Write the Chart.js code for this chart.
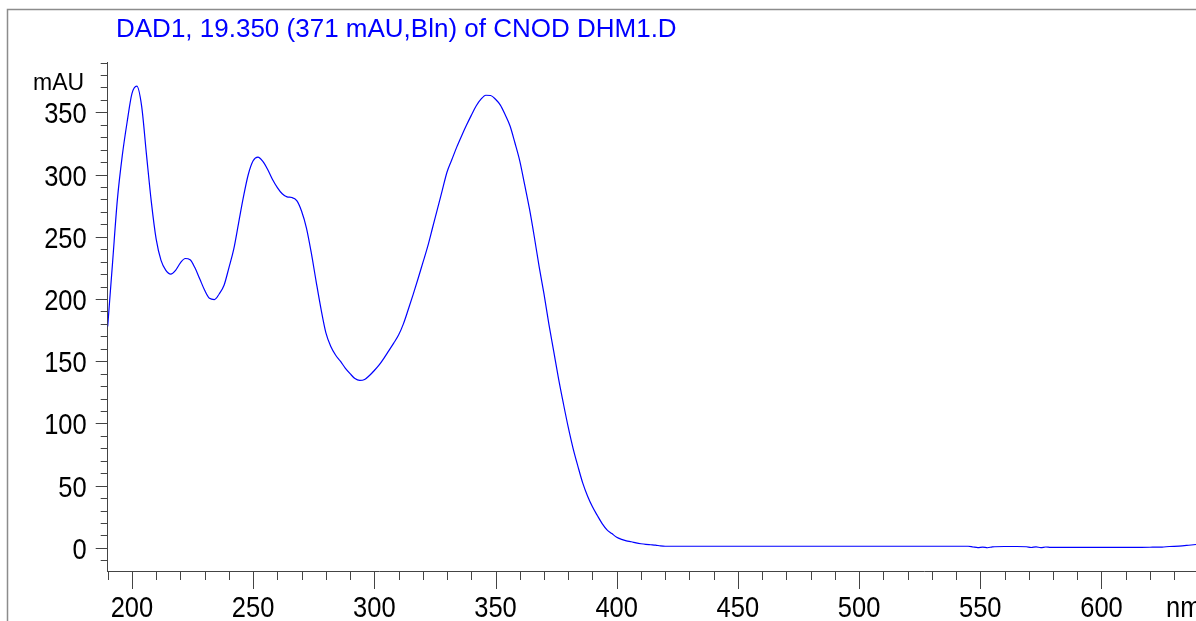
<!DOCTYPE html>
<html><head><meta charset="utf-8">
<style>html,body{margin:0;padding:0;background:#fff;overflow:hidden}#wrap{width:1196px;height:621px;position:relative}</style>
<script src="https://cdn.jsdelivr.net/npm/chart.js@4.4.0/dist/chart.umd.min.js"></script>
</head><body><div id="wrap"><canvas id="c" width="1196" height="621"></canvas></div>
<script>
const titleText = "DAD1, 19.350 (371 mAU,Bln) of CNOD DHM1.D";
const yUnit = "mAU";
const xUnit = "nm";
const wavelengths = [
190,192,194,196,198,200,202,204,206,208,210,212,214,216,218,220,222,224,226,228,
230,232,234,236,238,240,242,244,246,248,250,252,254,256,258,260,262,264,266,268,
270,272,274,276,278,280,282,284,286,288,290,292,294,296,298,300,302,304,306,308,
310,312,314,316,318,320,322,324,326,328,330,332,334,336,338,340,342,344,346,348,
350,352,354,356,358,360,362,364,366,368,370,372,374,376,378,380,382,384,386,388,
390,392,394,396,398,400,402,404,406,408,410,412,414,416,418,420,430,440,450,460,
470,480,490,500,510,520,530,540,545,547,549,551,553,555,560,565,569,571,573,575,
577,579,585,590,600,610,620,625,628,632,636,639];
const absorbance = [
178,229,280,315,342,365,371,355,316,278,248,231,223,220,223,229,232.5,231.5,225,216,
207,200.5,199.5,204,211,225,240,261,282,300,311,314,310.5,304,296,289.5,284.5,282,281.5,279,
270.5,257,237,214,192,173,162,155,150,144.5,140,136,134.5,135.3,138.5,142.5,147,152.5,158.5,164.5,
171,180,191.5,203.5,216,229,242,257,272,287,302,312,322,331,339.5,347.5,355,360.5,363.7,363.5,
360.5,355.8,348,339,325.5,311,292,272.5,250,226,204,180,158,136,116,97,80,65.5,52,41.5,
33,26,19.5,14.5,11.5,8.5,6.8,5.6,4.9,4,3.3,2.8,2.5,2.2,1.6,1.3,1.3,1.3,1.3,1.3,
1.3,1.3,1.3,1.3,1.3,1.3,1.3,1.3,1.3,0.7,0.2,0.6,0.1,0.8,1.1,1.1,0.9,0.3,0.8,0.2,
0.7,0.4,0.4,0.4,0.4,0.4,0.5,0.6,1.1,1.4,2.1,2.7];
const yMajorTicks = [0,50,100,150,200,250,300,350];
const xMajorTicks = [200,250,300,350,400,450,500,550,600];

const baseFont = '"Liberation Sans", Arial, sans-serif';
const axisColor = '#444';
const squeeze = 0.85;

function narrowText(ctx, text, x, y, align) {
  ctx.save();
  ctx.translate(x, y);
  ctx.scale(squeeze, 1);
  ctx.textAlign = align;
  ctx.fillText(text, 0, 0);
  ctx.restore();
}

const decor = {
  id: 'decor',
  beforeDraw(chart) {
    const ctx = chart.ctx;
    ctx.save();
    ctx.fillStyle = '#fff';
    ctx.fillRect(0, 0, chart.width, chart.height);
    ctx.strokeStyle = '#8c8c8c';
    ctx.lineWidth = 1.5;
    ctx.strokeRect(7.5, 9.5, 1400, 1400);
    ctx.restore();
  },
  afterDraw(chart) {
    const ctx = chart.ctx;
    const xs = chart.scales.x, ys = chart.scales.y;
    const ca = chart.chartArea;
    ctx.save();
    ctx.strokeStyle = axisColor;
    ctx.lineWidth = 1;
    ctx.beginPath();
    for (let v = -10; v <= 390; v += 10) {
      const y = Math.round(ys.getPixelForValue(v)) + 0.5;
      const len = yMajorTicks.includes(v) ? 12 : 7;
      ctx.moveTo(ca.left - len, y); ctx.lineTo(ca.left, y);
    }
    for (let v = 190; v <= 630; v += 10) {
      const x = Math.round(xs.getPixelForValue(v)) + 0.5;
      const len = xMajorTicks.includes(v) ? 18 : 9;
      ctx.moveTo(x, ca.bottom); ctx.lineTo(x, ca.bottom + len);
    }
    ctx.stroke();

    ctx.fillStyle = '#000';
    ctx.textBaseline = 'alphabetic';
    ctx.font = '30px ' + baseFont;
    yMajorTicks.forEach(v => {
      narrowText(ctx, String(v), ca.left - 21, ys.getPixelForValue(v) + 11, 'right');
    });
    xMajorTicks.forEach(v => {
      narrowText(ctx, String(v), xs.getPixelForValue(v), 617, 'center');
    });
    narrowText(ctx, xUnit, 1166, 617, 'left');

    ctx.fillStyle = '#0000ff';
    ctx.font = '26px ' + baseFont;
    ctx.textAlign = 'left';
    ctx.fillText(titleText, 116, 37);
    ctx.fillStyle = '#000';
    ctx.font = '23px ' + baseFont;
    ctx.fillText(yUnit, 33, 90);
    ctx.restore();
  }
};

new Chart(document.getElementById('c'), {
  type: 'line',
  data: {
    datasets: [{
      data: wavelengths.map((w, i) => ({x: w, y: absorbance[i]})),
      borderColor: '#0000ff',
      borderWidth: 1.2,
      pointRadius: 0,
      fill: false,
      cubicInterpolationMode: 'monotone'
    }]
  },
  options: {
    responsive: false,
    animation: false,
    devicePixelRatio: 1,
    layout: {padding: {top: 62.5, left: 0, right: 0, bottom: 0}},
    plugins: {legend: {display: false}, tooltip: {enabled: false}, title: {display: false}},
    scales: {
      x: {
        type: 'linear', min: 190, max: 639,
        afterFit(s) { s.height = 50; },
        grid: {display: true, drawOnChartArea: false, drawTicks: false},
        border: {display: true, color: axisColor, width: 1},
        ticks: {display: false, stepSize: 10, includeBounds: false}
      },
      y: {
        type: 'linear', min: -18.6, max: 390,
        afterFit(s) { s.width = 107.7; },
        grid: {display: true, drawOnChartArea: false, drawTicks: false},
        border: {display: true, color: axisColor, width: 1},
        ticks: {display: false, stepSize: 10, includeBounds: false}
      }
    }
  },
  plugins: [decor]
});
</script>
</body></html>
